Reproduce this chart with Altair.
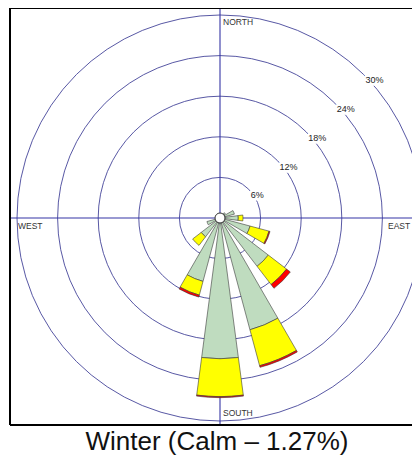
import math
import pandas as pd
import altair as alt

# ---- data ----
dir_names = ["NE", "ENE", "E", "ESE", "SE", "SSE", "S", "SSW", "SW", "WSW"]
dir_angles = [45, 67.5, 90, 112.5, 135, 157.5, 180, 202.5, 225, 247.5]
freq_low = [1.0, 2.2, 2.7, 4.6, 9.0, 17.1, 20.8, 9.7, 3.5, 2.0]
freq_mid = [0.0, 0.0, 0.7, 2.9, 3.4, 5.5, 5.6, 2.1, 1.6, 0.0]
freq_high = [0.0, 0.0, 0.0, 0.15, 0.7, 0.25, 0.15, 0.3, 0.0, 0.0]
classes = ["low", "mid", "high"]
class_colors = ["#bfdcbf", "#ffff00", "#ff0000"]
ring_values = [6, 12, 18, 24, 30]
ring_labels = ["6%", "12%", "18%", "24%", "30%"]
calm_pct = 1.27
season = "Winter"

# ---- layout constants ----
W, H = 402, 417
CX, CY = 210, 210
R_MAX = 203
HALF = 7.5
FONT = "Liberation Sans, Arial, sans-serif"

rows = []
for name, ang, a, b, c in zip(dir_names, dir_angles, freq_low, freq_mid, freq_high):
    start = 0.0
    for cls, f in zip(classes, [a, b, c]):
        if f > 0:
            rows.append({"dir": name, "cls": cls, "t0": ang - HALF, "t1": ang + HALF,
                         "r0": start, "r1": start + f})
            start += f
bars_df = pd.DataFrame(rows)
rings_df = pd.DataFrame({"r": ring_values, "label": ring_labels, "ang": [45] * len(ring_values)})

theta_scale = alt.Scale(type="linear", domain=[0, 360], range=[0, 2 * math.pi])
r_scale = alt.Scale(type="linear", domain=[0, 30], range=[0, R_MAX], zero=True)
one = alt.Data(values=[{"v": 1}])

def rule(**enc):
    return alt.Chart(one).mark_rule(color="#000000", strokeWidth=2).encode(**enc)

frame = alt.layer(
    rule(x=alt.value(0), x2=alt.value(W), y=alt.value(0)),
    rule(x=alt.value(0), y=alt.value(0), y2=alt.value(H)),
    rule(x=alt.value(0), x2=alt.value(W), y=alt.value(H)),
)

axes = alt.layer(
    alt.Chart(one).mark_rule(color="#3535a5", strokeWidth=1.1).encode(
        x=alt.value(CX), y=alt.value(0), y2=alt.value(H)),
    alt.Chart(one).mark_rule(color="#3535a5", strokeWidth=1.1).encode(
        x=alt.value(0), x2=alt.value(W), y=alt.value(CY)),
)

rings = alt.Chart(rings_df).mark_arc(
    theta=0, theta2=2 * math.pi, filled=False, stroke="#45459a", strokeWidth=0.9
).encode(
    radius=alt.Radius("r:Q", scale=r_scale, stack=False),
    x=alt.value(CX), y=alt.value(CY),
)

label_enc = dict(
    theta=alt.Theta("ang:Q", scale=theta_scale, stack=False),
    radius=alt.Radius("r:Q", scale=r_scale, stack=False),
    text="label:N",
    x=alt.value(CX), y=alt.value(CY),
)
ring_halo = alt.Chart(rings_df).mark_text(
    align="left", baseline="top", dx=2, dy=2, fontSize=9, font=FONT,
    color="white", stroke="white", strokeWidth=5
).encode(**label_enc)
ring_text = alt.Chart(rings_df).mark_text(
    align="left", baseline="top", dx=2, dy=2, fontSize=9, font=FONT, color="#222222"
).encode(**label_enc)

bars = alt.Chart(bars_df).mark_arc(stroke="#3a3a3a", strokeWidth=0.6).encode(
    theta=alt.Theta("t0:Q", scale=theta_scale, stack=False),
    theta2="t1:Q",
    radius=alt.Radius("r1:Q", scale=r_scale, stack=False),
    radius2="r0:Q",
    color=alt.Color("cls:N", scale=alt.Scale(domain=classes, range=class_colors), legend=None),
    x=alt.value(CX), y=alt.value(CY),
)

calm = alt.Chart(alt.Data(values=[{"calm": calm_pct}])).mark_arc(
    theta=0, theta2=2 * math.pi, radius=5, fill="white", stroke="#333333", strokeWidth=1
).encode(x=alt.value(CX), y=alt.value(CY))

def label(txt, x, y):
    return alt.Chart(alt.Data(values=[{"t": txt}])).mark_text(
        align="left", baseline="alphabetic", fontSize=8.5, font=FONT, color="#333333"
    ).encode(text="t:N", x=alt.value(x), y=alt.value(y))

compass = alt.layer(
    label("NORTH", 213, 17),
    label("SOUTH", 213, 408),
    label("WEST", 8, 221),
    label("EAST", 378, 221),
)

title = alt.Chart(alt.Data(values=[{"t": f"{season} (Calm \u2013 {calm_pct}%)"}])).mark_text(
    align="center", baseline="alphabetic", fontSize=26, font=FONT, color="#111111"
).encode(text="t:N", x=alt.value(207), y=alt.value(442))

chart = alt.layer(
    rings, axes, ring_halo, ring_text, bars, calm, compass, frame, title
).properties(
    width=W, height=H,
    padding={"left": 2, "top": 0, "right": 0, "bottom": 31},
    autosize="none",
).configure_view(strokeWidth=0)

chart.save("out.html", embed_options={"renderer": "svg", "actions": False})
